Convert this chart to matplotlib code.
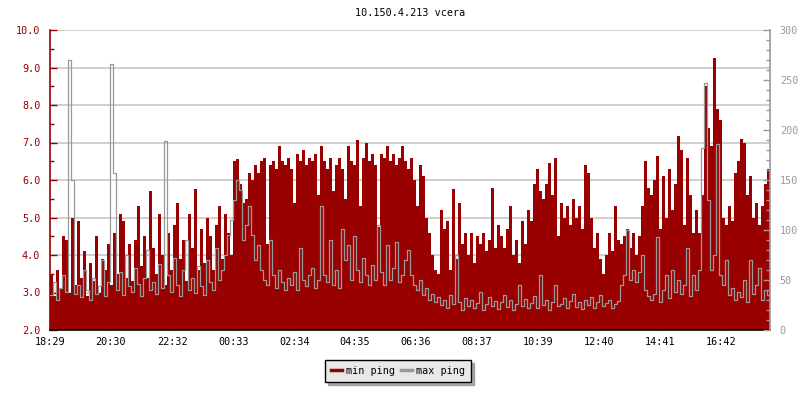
import numpy as np
import matplotlib
matplotlib.use("Agg")
import matplotlib.pyplot as plt
from matplotlib.lines import Line2D
from matplotlib.ticker import MultipleLocator

plt.rcParams['font.family'] = ['DejaVu Sans Mono']

title = "10.150.4.213 vcera"
time_labels = ["18:29", "20:30", "22:32", "00:33", "02:34", "04:35",
               "06:36", "08:37", "10:39", "12:40", "14:41", "16:42"]
span_minutes = 1430

# min ping (left axis, ms)
min_ping = [
    3.5, 2.9, 3.6, 3.1, 4.5, 4.4, 3.0, 5.0, 3.2, 4.9,
    3.4, 4.1, 2.9, 3.8, 3.3, 4.5, 3.0, 3.9, 3.6, 4.3,
    3.2, 4.6, 3.5, 5.1, 4.9, 3.4, 4.3, 3.3, 4.4, 5.3,
    3.7, 4.5, 3.4, 5.7, 4.2, 3.5, 5.1, 4.0, 3.2, 4.6,
    3.6, 4.8, 5.4, 3.9, 4.4, 3.3, 5.1, 4.2, 5.75, 3.6,
    4.7, 3.8, 5.0, 4.5, 3.6, 4.8, 5.3, 3.9, 5.1, 4.6,
    4.0, 6.5, 6.55, 5.9, 5.4, 5.5, 6.2, 6.0, 6.4, 6.2,
    6.5, 6.6, 4.3, 6.4, 6.5, 6.3, 6.9, 6.5, 6.4, 6.6,
    6.3, 5.4, 6.7, 6.5, 6.8, 6.4, 6.6, 6.5, 6.7, 5.6,
    6.9, 6.5, 6.3, 6.6, 5.7, 6.4, 6.6, 6.3, 5.5, 6.9,
    6.5, 6.4, 7.07, 5.3, 6.6, 7.0, 6.5, 6.7, 6.4, 4.75,
    6.7, 6.6, 6.9, 6.5, 6.7, 6.4, 6.6, 6.9, 6.5, 6.3,
    6.6, 6.0, 5.3, 6.4, 6.1, 5.0, 4.6, 4.0, 3.6, 3.5,
    5.2, 4.7, 4.9, 3.6, 5.75, 3.9, 5.4, 4.3, 4.6, 4.0,
    4.6, 3.8, 4.5, 4.3, 4.6, 4.1, 4.4, 5.8, 4.2, 4.8,
    4.5, 4.2, 4.7, 5.3, 4.0, 4.4, 3.8, 4.9, 4.3, 5.2,
    4.9, 5.9, 6.3, 5.7, 5.5, 5.9, 6.44, 5.6, 6.6, 4.5,
    5.4, 5.0, 5.3, 4.8, 5.5, 5.0, 5.3, 4.7, 6.4, 6.2,
    5.0, 4.2, 4.6, 3.9, 3.5, 4.0, 4.6, 4.1, 5.3, 4.4,
    4.3, 4.5, 4.7, 4.2, 4.6, 4.0, 4.5, 5.3, 6.5, 5.8,
    5.6, 6.0, 6.65, 4.7, 6.1, 5.0, 6.3, 5.2, 5.9, 7.17,
    6.8, 4.8, 6.6, 5.6, 4.6, 5.2, 4.6, 5.6, 8.5, 7.4,
    6.9, 9.25, 7.9, 7.6, 5.0, 4.8, 5.3, 4.9, 6.2, 6.5,
    7.1, 7.0, 5.6, 6.1, 5.0, 5.4, 4.8, 5.3, 5.9, 6.3,
]

# max ping (right axis, ms)
max_ping = [
    35, 48, 30, 42, 55, 38, 270, 150, 36, 45,
    33, 60, 40, 30, 52, 36, 44, 70, 34, 48,
    266, 157, 40, 58, 35, 75, 44, 38, 62, 46,
    34, 52, 80, 40, 48, 36, 66, 42, 189, 55,
    38, 72, 45, 34, 60, 90, 40, 52, 37, 64,
    44, 35, 70, 48, 40, 82, 50, 60, 75, 95,
    110, 130, 150, 140, 90, 105, 124, 95, 70, 85,
    60, 50, 45, 90, 55, 42, 60, 48, 40, 52,
    45, 58, 40, 82, 50, 44, 55, 62, 42, 50,
    124, 55, 48, 90, 45, 60, 42, 101, 70, 85,
    50, 94, 60, 48, 72, 55, 45, 65, 50, 105,
    58, 45, 85, 50, 62, 88, 48, 55, 70, 80,
    55, 45, 40, 50, 35, 42, 30, 36, 28, 33,
    25, 30, 22, 35, 26, 75, 28, 20, 32, 24,
    30, 22, 27, 38, 20, 26, 33, 24, 29, 21,
    28, 35, 23, 30, 20, 26, 45, 24, 31, 22,
    27, 34, 22, 55, 25, 30, 20, 28, 45, 24,
    26, 32, 22, 29, 36, 23, 28, 21, 30, 25,
    33, 22, 28, 35, 24, 27, 30, 22, 26, 29,
    45, 55, 100, 50, 60, 48, 58, 75, 40, 34,
    30, 36, 93, 28, 40, 55, 32, 60, 38, 50,
    36, 45, 82, 34, 55, 40, 60, 182, 247, 130,
    60, 75, 186, 55, 45, 70, 35, 42, 30, 38,
    33, 50, 28, 70, 36, 45, 62, 30, 40, 35,
]

RED = "#990000"
GRAY = "#999999"

n = len(min_ping)
t = np.arange(n + 1) * (span_minutes / n)
red_vals = np.append(min_ping, min_ping[-1])
gray_vals = np.append(max_ping, max_ping[-1])

fig = plt.figure(figsize=(8, 4), dpi=100)
ax = fig.add_axes([50 / 800, 70 / 400, 720 / 800, 300 / 400])
ax2 = ax.twinx()

ax.set_zorder(1)
ax.patch.set_visible(False)
ax2.set_zorder(2)
ax2.patch.set_visible(False)

# grid
for v in range(3, 11):
    ax.axhline(v, color="#c8c8c8", lw=1.2, zorder=0)

ax.fill_between(t, 2.0, red_vals, step="post", color=RED, lw=0, zorder=2)
ax2.step(t, gray_vals, where="post", color=GRAY, lw=0.9, zorder=3)

ax.set_xlim(0, span_minutes)
ax.set_ylim(2.0, 10.0)
ax2.set_ylim(0, 300)

# x ticks
start = int(time_labels[0][:2]) * 60 + int(time_labels[0][3:])
pos = [((int(s[:2]) * 60 + int(s[3:])) - start) % 1440 for s in time_labels]
ax.set_xticks(pos)
ax.set_xticklabels(time_labels, fontsize=7.3, color="black")
ax.tick_params(axis="x", direction="in", length=5, width=1, color="black", pad=5)

# left axis
ax.yaxis.set_major_locator(MultipleLocator(1.0))
ax.yaxis.set_minor_locator(MultipleLocator(0.5))
ax.set_yticklabels([f"{v:.1f}" for v in ax.get_yticks()])
ax.tick_params(axis="y", which="major", direction="in", length=5, width=1,
               color=RED, labelcolor=RED, labelsize=7.3, pad=7)
ax.tick_params(axis="y", which="minor", direction="in", length=3, width=1, color=RED)

# right axis
ax2.yaxis.set_major_locator(MultipleLocator(50))
ax2.yaxis.set_minor_locator(MultipleLocator(10))
ax2.tick_params(axis="y", which="major", direction="in", length=5, width=1,
                color=GRAY, labelcolor=GRAY, labelsize=7.3, pad=7)
ax2.tick_params(axis="y", which="minor", direction="in", length=3, width=1, color=GRAY)

for a in (ax, ax2):
    a.spines["top"].set_visible(False)
ax.spines["left"].set_color(RED)
ax.spines["bottom"].set_color("black")
ax.spines["right"].set_visible(False)
ax2.spines["left"].set_visible(False)
ax2.spines["bottom"].set_visible(False)
ax2.spines["right"].set_color(GRAY)
for sp in ("left", "bottom"):
    ax.spines[sp].set_linewidth(1.2)
ax2.spines["right"].set_linewidth(1.2)

fig.text(410 / 800, 1 - 13 / 400, title, ha="center", va="center", fontsize=7.3)

handles = [Line2D([], [], color=RED, lw=2.5), Line2D([], [], color=GRAY, lw=2.5)]
leg = fig.legend(handles, ["min ping", "max ping"], loc="center",
                 bbox_to_anchor=(398 / 800, 1 - 371 / 400), ncol=2,
                 fontsize=7.3, frameon=True, fancybox=False, shadow={"color": "#606060"},
                 handlelength=1.1, handletextpad=0.4, columnspacing=0.5,
                 borderpad=0.6, borderaxespad=0)
leg.get_frame().set_facecolor("#e8e8e8")
leg.get_frame().set_edgecolor("black")
leg.get_frame().set_alpha(1)
leg.get_frame().set_linewidth(1.0)

fig.savefig("out.png", dpi=100)
